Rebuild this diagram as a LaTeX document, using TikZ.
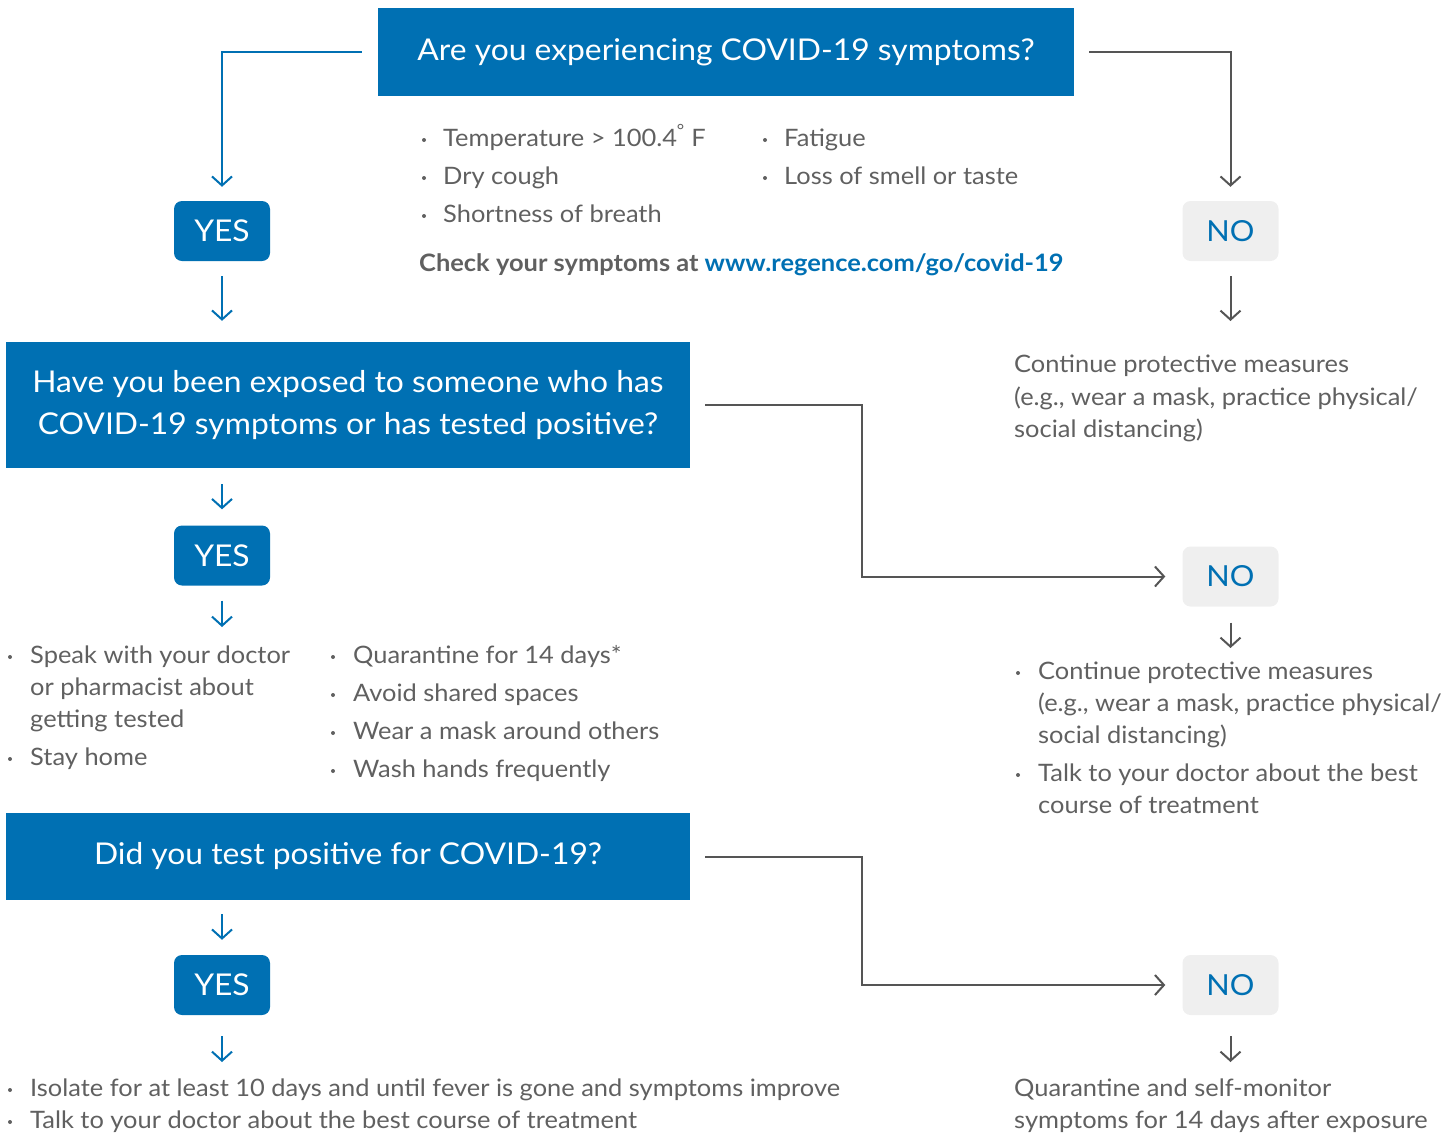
\documentclass[tikz,border=0pt]{standalone}
\usepackage{fontspec}
\setmainfont{Lato}[FakeStretch=1.06]
\usetikzlibrary{arrows.meta}
\definecolor{rblue}{HTML}{0070B3}
\definecolor{rtext}{HTML}{606060}
\definecolor{nofill}{HTML}{EFEFEF}
\definecolor{rline}{HTML}{555555}
\tikzset{
  qbox/.style={fill=rblue, text=white, inner sep=0pt, align=center, font=\fontsize{30}{42}\selectfont},
  yesbox/.style={fill=rblue, text=white, rounded corners=8pt, minimum width=96pt, minimum height=60pt, inner sep=0pt, font=\fontsize{30}{36}\selectfont},
  nobox/.style={fill=nofill, text=rblue, rounded corners=8pt, minimum width=96pt, minimum height=60pt, inner sep=0pt, font=\fontsize{29}{36}\selectfont},
  body/.style={anchor=base west, inner sep=0pt, text=rtext, font=\fontsize{24}{32}\selectfont},
  barrow/.style={draw=rblue, line width=2pt, -{Straight Barb[length=9pt,width=20pt]}},
  garrow/.style={draw=rline, line width=2pt, -{Straight Barb[length=9pt,width=20pt]}},
  dot/.style={fill=rtext}
}
\newcommand{\bul}[2]{\fill[dot] (#1,#2) circle (2pt);}
\begin{document}
\begin{tikzpicture}[x=1pt,y=-1pt]
\useasboundingbox (0,0) rectangle (1454,1133);

% question boxes
\node[qbox, minimum width=696pt, minimum height=88pt] (q1) at (726,52) {Are you experiencing COVID-19 symptoms?};
\node[qbox, minimum width=684pt, minimum height=126pt] (q2) at (348,405) {Have you been exposed to someone who has\\COVID-19 symptoms or has tested positive?};
\node[qbox, minimum width=684pt, minimum height=87pt] (q3) at (348,856.5) {Did you test positive for COVID-19?};

% yes / no boxes
\node[yesbox] (y1) at (222,231) {YES};
\node[yesbox] (y2) at (222,555.5) {YES};
\node[yesbox] (y3) at (222,985) {YES};
\node[nobox] (n1) at (1230.5,231) {NO};
\node[nobox] (n2) at (1230.5,576.5) {NO};
\node[nobox] (n3) at (1230.5,985) {NO};

% arrow end coordinates
\coordinate (e2) at (222,627);
\coordinate (e3) at (222,1062);
\coordinate (f1) at (1230.5,321);
\coordinate (f2) at (1230.5,648);
\coordinate (f3) at (1230.5,1062);
\coordinate (m) at (862,0);

% connectors
\draw[barrow, shorten >=14pt] ([xshift=-16pt]q1.west) -| (y1.north);
\draw[garrow, shorten >=14pt] ([xshift=15pt]q1.east) -| (n1.north);
\draw[barrow, shorten <=15pt, shorten >=21pt] (y1.south) -- (y1.south |- q2.north);
\draw[barrow, shorten <=16pt, shorten >=16pt] (y2.north |- q2.south) -- (y2.north);
\draw[barrow, shorten <=15pt] (y2.south) -- (e2);
\draw[barrow, shorten <=14pt, shorten >=15pt] (y3.north |- q3.south) -- (y3.north);
\draw[barrow, shorten <=21pt] (y3.south) -- (e3);
\draw[garrow, shorten <=15pt] (n1.south) -- (f1);
\draw[garrow, shorten <=16pt] (n2.south) -- (f2);
\draw[garrow, shorten <=21pt] (n3.south) -- (f3);
\draw[garrow, shorten >=17pt] ([xshift=15pt]q2.east) -| (m |- n2.west) -- (n2.west);
\draw[garrow, shorten >=17pt] ([xshift=15pt]q3.east) -| (m |- n3.west) -- (n3.west);

% symptoms
\bul{424}{140}\node[body] (s1) at (443,146) {Temperature > 100.4\textsuperscript{\textdegree} F};
\bul{424}{178}\node[body] (s2) at (443,184) {Dry cough};
\bul{424}{216}\node[body] (s3) at (443,222) {Shortness of breath};
\bul{765}{140}\node[body] (s4) at (784,146) {Fatigue};
\bul{765}{178}\node[body] (s5) at (784,184) {Loss of smell or taste};
\node[body, font=\fontsize{24}{32}\selectfont\bfseries] (chk) at (419,271) {Check your symptoms at \textcolor{rblue}{www.regence.com/go/covid-19}};

% no 1 text
\node[body] (c1) at (1014,372) {Continue protective measures};
\node[body] (c2) at (1014,405) {(e.g., wear a mask, practice physical/};
\node[body] (c3) at (1014,437) {social distancing)};

% yes 2 lists
\bul{10}{657}\node[body] (a1) at (30,663) {Speak with your doctor};
\node[body] (a2) at (30,695) {or pharmacist about};
\node[body] (a3) at (30,727) {getting tested};
\bul{10}{759}\node[body] (a4) at (30,765) {Stay home};
\bul{333}{657}\node[body] (b1) at (353,663) {Quarantine for 14 days*};
\bul{333}{695}\node[body] (b2) at (353,701) {Avoid shared spaces};
\bul{333}{733}\node[body] (b3) at (353,739) {Wear a mask around others};
\bul{333}{771}\node[body] (b4) at (353,777) {Wash hands frequently};

% no 2 list
\bul{1018}{673}\node[body] (r1) at (1038,679) {Continue protective measures};
\node[body] (r2) at (1038,711) {(e.g., wear a mask, practice physical/};
\node[body] (r3) at (1038,743) {social distancing)};
\bul{1018}{775}\node[body] (r4) at (1038,781) {Talk to your doctor about the best};
\node[body] (r5) at (1038,813) {course of treatment};

% yes 3 list
\bul{10}{1090}\node[body] (t1) at (30,1096) {Isolate for at least 10 days and until fever is gone and symptoms improve};
\bul{10}{1122}\node[body] (t2) at (30,1128) {Talk to your doctor about the best course of treatment};

% no 3 text
\node[body] (u1) at (1014,1096) {Quarantine and self-monitor};
\node[body] (u2) at (1014,1128) {symptoms for 14 days after exposure};
\end{tikzpicture}
\end{document}
